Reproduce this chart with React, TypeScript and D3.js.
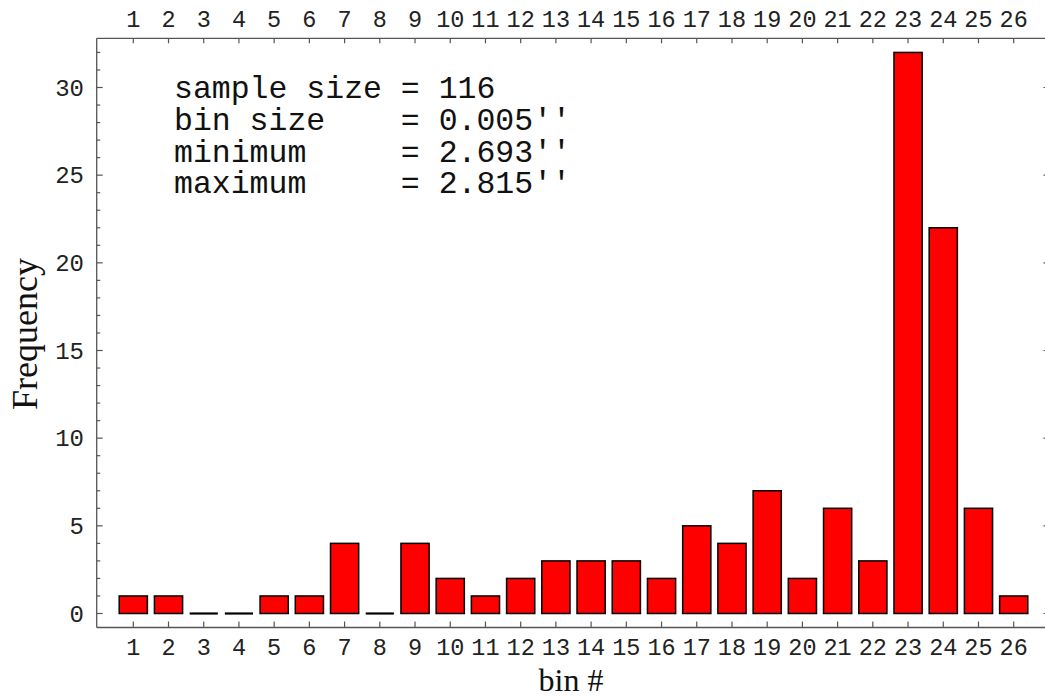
import React from 'react';
import * as d3 from 'd3';

// histogram of measured lengths, one bar per bin
const bins = [1, 2, 3, 4, 5, 6, 7, 8, 9, 10, 11, 12, 13, 14, 15, 16, 17, 18, 19, 20, 21, 22, 23, 24, 25, 26];
const frequencies = [1, 1, 0, 0, 1, 1, 4, 0, 4, 2, 1, 2, 3, 3, 3, 2, 5, 4, 7, 2, 6, 3, 32, 22, 6, 1];
const yMajorTicks = [0, 5, 10, 15, 20, 25, 30];
const yMinorTicks = [1, 2, 3, 4, 6, 7, 8, 9, 11, 12, 13, 14, 16, 17, 18, 19, 21, 22, 23, 24, 26, 27, 28, 29, 31, 32];
const statLines = [
    "sample size = 116",
    "bin size    = 0.005\u2032\u2032",
    "minimum     = 2.693\u2032\u2032",
    "maximum     = 2.815\u2032\u2032"
];

const width = 1045, height = 698;
const frame = { left: 96.7, top: 38.3, right: 1049, bottom: 627.5 };
const axisColor = "#555";
const mono = "'Liberation Mono', 'Courier New', monospace";
const serif = "'Liberation Serif', 'Times New Roman', serif";

// keep runs of spaces in svg text
const keepSpaces = (s: string) => s.replace(/ /g, "\u00A0");

export default function App() {
    const x = d3.scaleLinear().domain([1, 26]).range([133.3, 1013.7]);
    const y = d3.scaleLinear().domain([0, 30]).range([613.5, 87.5]);
    const step = x(2) - x(1);
    const barW = step * 0.8;

    return (
        <svg width={width} height={height}
             style={{ position: 'absolute', left: 0, top: 0, display: 'block', background: '#fff' }}>
            {/* frame */}
            <g stroke={axisColor} strokeWidth={1.3} fill="none">
                <line x1={frame.left} x2={frame.left} y1={frame.top} y2={frame.bottom} />
                <line x1={frame.left} x2={frame.right} y1={frame.top} y2={frame.top} />
                <line x1={frame.left} x2={frame.right} y1={frame.bottom} y2={frame.bottom} />
            </g>

            {/* left axis ticks */}
            <g stroke={axisColor} strokeWidth={1.2}>
                {yMajorTicks.map(t => (
                    <line key={"M" + t} x1={frame.left} x2={frame.left + 6} y1={y(t)} y2={y(t)} />
                ))}
                {yMinorTicks.map(t => (
                    <line key={"m" + t} x1={frame.left} x2={frame.left + 3.5} y1={y(t)} y2={y(t)} />
                ))}
                {yMajorTicks.map(t => (
                    <line key={"r" + t} x1={1043.5} x2={1045} y1={y(t)} y2={y(t)} />
                ))}
            </g>
            <g fontFamily={mono} fontSize={24} fill="#222" textAnchor="end">
                {yMajorTicks.map(t => (
                    <text key={t} x={84} y={y(t) + 8}>{t}</text>
                ))}
            </g>

            {/* bottom and top ticks */}
            <g stroke={axisColor} strokeWidth={1.2}>
                {bins.map(b => (
                    <line key={"b" + b} x1={x(b)} x2={x(b)} y1={frame.bottom} y2={frame.bottom - 6} />
                ))}
                {bins.map(b => (
                    <line key={"t" + b} x1={x(b)} x2={x(b)} y1={frame.top} y2={frame.top + 5} />
                ))}
            </g>
            <g fontFamily={mono} fontSize={23.5} fill="#222" textAnchor="middle">
                {bins.map(b => (
                    <text key={"bl" + b} x={x(b)} y={655}>{b}</text>
                ))}
                {bins.map(b => (
                    <text key={"tl" + b} x={x(b)} y={26.7}>{b}</text>
                ))}
            </g>

            {/* bars; empty bins show as a flat line on the baseline */}
            <g fill="#ff0000" stroke="#000" strokeWidth={1.5}>
                {frequencies.map((f, i) => f > 0 ? (
                    <rect key={i}
                          x={x(bins[i]) - barW / 2}
                          y={y(f)}
                          width={barW}
                          height={y(0) - y(f)} />
                ) : (
                    <line key={i}
                          x1={x(bins[i]) - barW / 2}
                          x2={x(bins[i]) + barW / 2}
                          y1={y(0)} y2={y(0)}
                          strokeWidth={2.2} />
                ))}
            </g>

            {/* summary text */}
            <g fontFamily={mono} fontSize={31.5} fill="#111">
                {statLines.map((s, i) => (
                    <text key={i} x={174} y={98.3 + i * 31.7}>{keepSpaces(s)}</text>
                ))}
            </g>

            {/* axis titles */}
            <text x={571} y={690.5} textAnchor="middle" fontFamily={serif} fontSize={32} fill="#111">bin #</text>
            <text transform="translate(37,334) rotate(-90)" textAnchor="middle"
                  fontFamily={serif} fontSize={36} fill="#111">Frequency</text>
        </svg>
    );
}
